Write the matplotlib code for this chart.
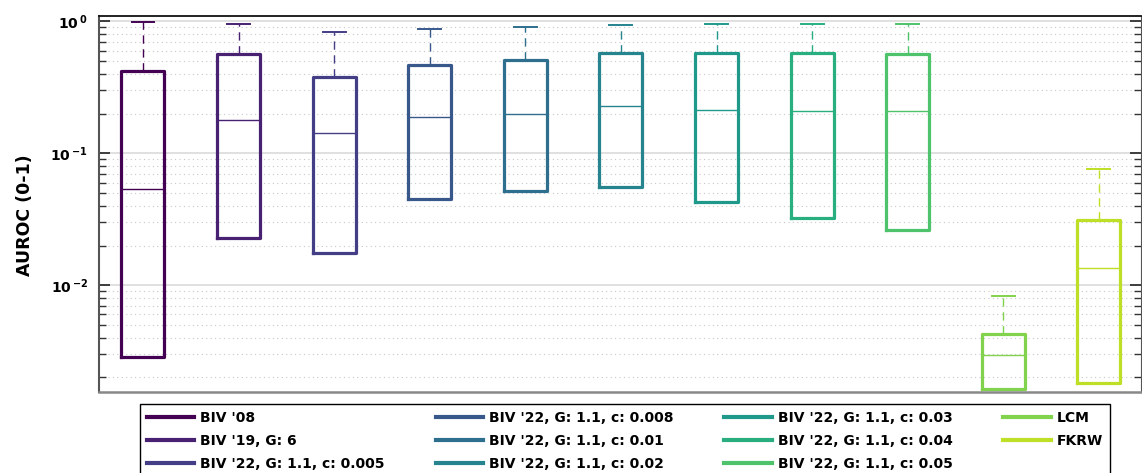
import numpy as np
import matplotlib
matplotlib.use("Agg")
import matplotlib.pyplot as plt
from matplotlib.ticker import FixedLocator, FuncFormatter, LogLocator, NullFormatter
from matplotlib.lines import Line2D

plt.rcParams['font.family'] = ['DejaVu Sans']
plt.rcParams['font.weight'] = 'bold'

# Métodos comparados
metodos = ["BIV '08", "BIV '19, G: 6", "BIV '22, G: 1.1, c: 0.005",
           "BIV '22, G: 1.1, c: 0.008", "BIV '22, G: 1.1, c: 0.01", "BIV '22, G: 1.1, c: 0.02",
           "BIV '22, G: 1.1, c: 0.03", "BIV '22, G: 1.1, c: 0.04", "BIV '22, G: 1.1, c: 0.05",
           "LCM", "FKRW"]

# Estadísticos de cada caja (AUROC)
bigote_sup = [0.99, 0.949, 0.83, 0.877, 0.908, 0.932, 0.957, 0.957, 0.957, 0.0083, 0.0755]
cuartil_3 = [0.42, 0.566, 0.382, 0.467, 0.514, 0.581, 0.581, 0.576, 0.566, 0.00428, 0.0315]
mediana = [0.054, 0.18, 0.143, 0.19, 0.2, 0.228, 0.214, 0.209, 0.209, 0.00294, 0.01346]
cuartil_1 = [0.00286, 0.023, 0.0177, 0.0447, 0.0519, 0.0556, 0.0428, 0.0323, 0.026, 0.00162, 0.00181]

colores = plt.cm.viridis(np.linspace(0, 0.9, len(metodos)))

fig = plt.figure(figsize=(11.42, 4.73), dpi=100)
ax = fig.add_axes([99 / 1142, 1 - 392 / 473, 1042 / 1142, 376 / 473])
ax.set_yscale('log')

posiciones = np.arange(1, len(metodos) + 1)
for i, c in enumerate(colores):
    stats = dict(med=mediana[i], q1=cuartil_1[i], q3=cuartil_3[i],
                 whislo=cuartil_1[i], whishi=bigote_sup[i], fliers=[])
    ax.bxp([stats], positions=[posiciones[i]], widths=0.45, capwidths=0.24,
           showfliers=False, manage_ticks=False,
           boxprops=dict(color=c, linewidth=2.3),
           medianprops=dict(color=c, linewidth=1.0),
           whiskerprops=dict(color=c, linewidth=1.0, linestyle=(0, (6, 4))),
           capprops=dict(color=c, linewidth=1.4))

ax.set_xlim(0.54, 11.44)
ax.set_ylim(1.55e-3, 1.1)
ax.set_xticks([])

ax.yaxis.set_major_locator(FixedLocator([1e-2, 1e-1, 1]))
ax.yaxis.set_major_formatter(FuncFormatter(
    lambda v, p: r'$\mathbf{10}^{\,\mathbf{%d}}$' % round(np.log10(v))))
ax.yaxis.set_minor_locator(LogLocator(base=10, subs=np.arange(2, 10)))
ax.yaxis.set_minor_formatter(NullFormatter())
ax.tick_params(axis='y', which='major', direction='in', length=8, width=1.2,
               right=True, labelsize=10, pad=8, color='#222222')
ax.tick_params(axis='y', which='minor', direction='in', length=5, width=1.0,
               right=True, color='#333333')

ax.set_axisbelow(True)
ax.grid(True, axis='y', which='major', color='#dddddd', linewidth=1.3)
ax.grid(True, axis='y', which='minor', color='#c8c8c8', linewidth=0.8, linestyle=(0, (1, 3)))

ax.spines['top'].set_color('#111111')
ax.spines['top'].set_linewidth(1.3)
ax.spines['left'].set_color('#555555')
ax.spines['left'].set_linewidth(1.5)
ax.spines['bottom'].set_color('#888888')
ax.spines['bottom'].set_linewidth(1.8)
ax.spines['right'].set_color('#555555')

ax.set_ylabel('AUROC (0-1)', fontsize=12.5, fontweight='bold')
ax.yaxis.set_label_coords(-0.062, 0.47)

# Leyenda debajo del gráfico
handles = [Line2D([], [], color=c, linewidth=3) for c in colores]
fig.legend(handles, metodos, loc='upper left', bbox_to_anchor=(140 / 1142, 1 - 404 / 473),
           borderaxespad=0, ncol=4, frameon=True, fancybox=False,
           edgecolor='black', framealpha=1, handlelength=3.4, handletextpad=0.45,
           columnspacing=3.65, labelspacing=0.65, borderpad=0.5,
           prop=dict(weight='bold', size=10))

fig.savefig('out.png', dpi=100)
